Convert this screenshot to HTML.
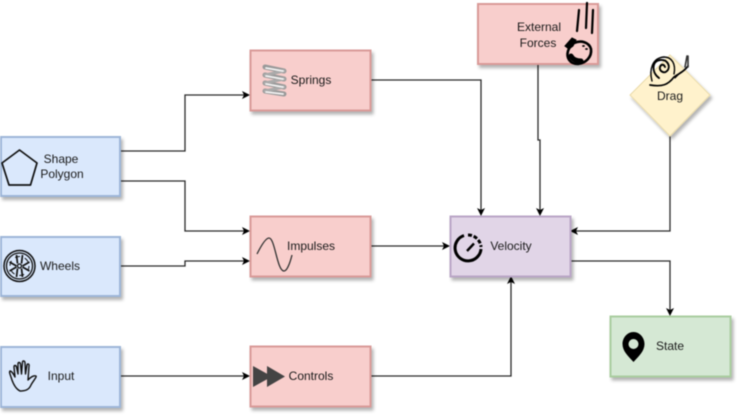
<!DOCTYPE html>
<html>
<head>
<meta charset="utf-8">
<style>
html,body{margin:0;padding:0;background:#fff;width:742px;height:418px;overflow:hidden}
svg{display:block;filter:blur(.6px)}
text{font-family:"Liberation Sans",sans-serif;font-size:12px;fill:#1a1a1a;text-anchor:middle}
.b{stroke-width:2}
.c{fill:none;stroke:#2a2a2a;stroke-width:1.3}
.a{fill:#000}
.i{fill:none;stroke:#111;stroke-width:1.4;stroke-linejoin:round;stroke-linecap:round}
</style>
</head>
<body>
<svg width="742" height="418" viewBox="0 0 742 418" xmlns="http://www.w3.org/2000/svg">
<defs><filter id="s" x="-10%" y="-10%" width="125%" height="130%"><feDropShadow dx="2" dy="3" stdDeviation="1.600" flood-color="#000" flood-opacity=".3"/></filter></defs>

<!-- connectors -->
<path class="c" d="M120 151H185V95H244"/>
<path class="c" d="M120 181H185V231H244"/>
<path class="c" d="M120 266H185V261H244"/>
<path class="c" d="M120 376H244"/>
<path class="c" d="M370 80H481V210"/>
<path class="c" d="M370 246H444"/>
<path class="c" d="M370 376H511V282"/>
<path class="c" d="M538 64V140H540V210"/>
<path class="c" d="M670 136V231H576"/>
<path class="c" d="M570 261H670V310"/>
<path class="a" d="M250 95l-8-4 2 4-2 4z"/>
<path class="a" d="M250 231l-8-4 2 4-2 4z"/>
<path class="a" d="M250 261l-8-4 2 4-2 4z"/>
<path class="a" d="M250 376l-8-4 2 4-2 4z"/>
<path class="a" d="M450 246l-8-4 2 4-2 4z"/>
<path class="a" d="M481 216l-4-8 4 2 4-2z"/>
<path class="a" d="M540 216l-4-8 4 2 4-2z"/>
<path class="a" d="M570 231l8-4-2 4 2 4z"/>
<path class="a" d="M670 316l-4-8 4 2 4-2z"/>
<path class="a" d="M511 276l-4 8 4-2 4 2z"/>

<!-- boxes -->
<g filter="url(#s)" class="b">
<rect x="1" y="137" width="119" height="59" fill="#dae8fc" stroke="#9db6d8"/>
<rect x="1" y="237" width="119" height="59" fill="#dae8fc" stroke="#9db6d8"/>
<rect x="1" y="347" width="119" height="60" fill="#dae8fc" stroke="#9db6d8"/>
<rect x="250.500" y="50.500" width="120" height="60" fill="#f8cecc" stroke="#d99a98"/>
<rect x="250.500" y="216.500" width="120" height="60" fill="#f8cecc" stroke="#d99a98"/>
<rect x="250.500" y="346.500" width="120" height="60" fill="#f8cecc" stroke="#d99a98"/>
<rect x="478" y="4" width="120" height="60" fill="#f8cecc" stroke="#d99a98"/>
<rect x="450.500" y="216.500" width="120" height="60" fill="#e1d5e7" stroke="#b9a5c6"/>
<rect x="610.500" y="316.500" width="120" height="60" fill="#d5e8d4" stroke="#a9cd9f"/>
<path d="M670 55L710 95L670 136L630 95Z" fill="#fff2cc" stroke="#eadbaa" stroke-width="1"/>
</g>

<!-- labels -->
<text x="61" y="163">Shape</text>
<text x="62" y="178">Polygon</text>
<text x="60" y="270">Wheels</text>
<text x="61" y="380">Input</text>
<text x="311" y="84">Springs</text>
<text x="311" y="250">Impulses</text>
<text x="311" y="380">Controls</text>
<text x="539" y="31">External</text>
<text x="538" y="47">Forces</text>
<text x="511" y="250">Velocity</text>
<text x="670" y="350">State</text>
<text x="670" y="100">Drag</text>

<!-- pentagon -->
<path d="M19.500 150L37 163L30.500 185L9 185L2 163Z" fill="none" stroke="#111" stroke-width="1.700" stroke-linejoin="round"/>

<!-- wheel -->
<g transform="translate(19.500,266)" fill="none" stroke="#111">
<circle r="15.500" stroke-width="1.500"/><circle r="13" stroke-width="1.300"/>
<circle r="2" stroke-width="1.300"/>
<circle r="9.500" stroke-width="1" stroke-dasharray="5 5"/>
<path stroke-width="1.700" d="M-2-2.500L-3-11M2-2.500L3-11M-3 0L-10-4M3 0L10-4M-3 1L-10 5M3 1L10 5M-2 2.500L-3 11M2 2.500L3 11"/>
</g>

<!-- hand -->
<path class="i" d="M20 391C16 389 13 384 11 377C10 374 9 372 10 371C12 371 14 375 15 377L14 367C14 365 16 365 16.500 367L18 374L18 364C18 362 20 362 20.500 364L21.500 374L22.500 362C23 360 25 361 25 363L25.500 374L27 365C27.500 363 29.500 364 29 366L28 380C30 378 33 375 36 376C37 377 33 381 31 385C29 390 25 391 20 391Z"/>

<!-- spring -->
<g fill="none" stroke-linecap="round">
<path stroke="#999" stroke-width="5" d="M265 67L284 71M265 75L284 79M265 83L284 87M265 91L284 94"/>
<path stroke="#aaa" stroke-width="3" d="M284 71L265 75M284 79L265 83M284 87L265 91"/>
<path stroke="#f2f2f2" stroke-width="1.800" d="M266 68L283 71M266 76L283 79M266 84L283 87M266 92L283 94"/>
</g>

<!-- sine -->
<path d="M257 254C262 244 266 238 269 238C275 238 277 271 284 271C287 271 290 263 292 255" fill="none" stroke="#333" stroke-width="1.300"/>

<!-- fast forward -->
<path fill="#444" d="M253 366L272 376.500L253 387ZM267 366L285 376.500L267 387Z"/>

<!-- velocity gauge -->
<g fill="none" stroke="#000" stroke-width="3">
<path d="M464 235.500A13 13 0 1 0 481 249"/>
<path d="M468 235A13 13 0 0 1 481 247" stroke-dasharray="4 1.800"/>
<path stroke-width="2.400" d="M467 251L474 243.500"/>
</g>

<!-- external: falling apple -->
<g stroke="#000" stroke-linecap="round" fill="none">
<path stroke-width="2.200" d="M577 31L579 10M586 28L587 3M592 33L593 10"/>
<path stroke-width="2.600" d="M574 43C581 40 589 42 591 49C592 57 586 63 578 64C570 64 566 58 568 51C569 48 571 45 574 43Z"/>
<path fill="#000" stroke-width="1" d="M565 46L572 38L576 40L573 46L569 49Z"/>
<path stroke-width="1.800" d="M583 46L584 46M586 49L587 49"/>
<path stroke-width="5" d="M571 56C573 60 577 61 581 61"/>
</g>

<!-- snail -->
<g fill="none" stroke="#000" stroke-linecap="round">
<path stroke-width="1.700" d="M650 85C662 87 668 85 674 77C678 74 684 72 688 66"/>
<path stroke-width="1.400" d="M652 81C649 70 652 58 664 57C672 57 676 64 674 74"/>
<path stroke-width="1.900" d="M659 78C651 72 652 61 660 60C668 59 671 67 667 71C664 74 659 71 660 67C661 64 664 64 665 67"/>
<path stroke-width="1.600" stroke="#333" d="M685 67L687 56M688 67L688 56"/>
<path stroke-width="1.100" d="M675 78L681 72"/>
</g>

<!-- pin -->
<path fill="#000" fill-rule="evenodd" d="M633.500 332C627 332 622.500 338 622.500 344C622.500 351 628 356 633.500 362C639 356 644.500 351 644.500 344C644.500 338 640 332 633.500 332ZM633.500 339A5 5 0 1 1 633.500 349A5 5 0 1 1 633.500 339Z"/>
</svg>
</body>
</html>
